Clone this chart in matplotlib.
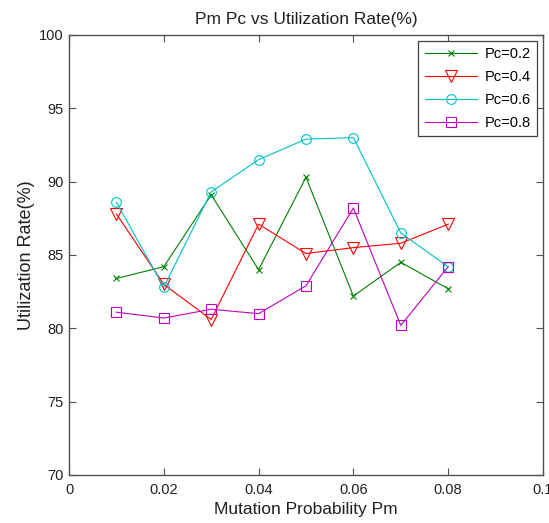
import matplotlib
matplotlib.use('Agg')
import matplotlib.pyplot as plt

plt.rcParams['font.family'] = ['Liberation Sans', 'DejaVu Sans']

# mutation probability values
pm = [0.01, 0.02, 0.03, 0.04, 0.05, 0.06, 0.07, 0.08]

# utilization rate (%) for each crossover probability
pc02 = [83.4, 84.2, 89.1, 84.0, 90.3, 82.2, 84.5, 82.7]
pc04 = [87.8, 83.0, 80.6, 87.1, 85.1, 85.5, 85.8, 87.1]
pc06 = [88.6, 82.8, 89.3, 91.5, 92.9, 93.0, 86.5, 84.2]
pc08 = [81.1, 80.7, 81.3, 81.0, 82.9, 88.2, 80.2, 84.2]

fig = plt.figure(figsize=(5.49, 5.23), dpi=100)
ax = fig.add_axes([0.1257, 0.0918, 0.8633, 0.8413])

ax.plot(pm, pc02, color='#008000', marker='x', ms=4.5, mew=0.8, lw=0.8, label='Pc=0.2')
ax.plot(pm, pc04, color='#ff0000', marker='v', ms=8, mfc='none', mew=0.8, lw=0.8, label='Pc=0.4')
ax.plot(pm, pc06, color='#00c0c8', marker='o', ms=7, mfc='none', mew=0.8, lw=0.8, label='Pc=0.6')
ax.plot(pm, pc08, color='#c000c0', marker='s', ms=7.5, mfc='none', mew=0.8, lw=0.8, label='Pc=0.8')

ax.set_xlim(0, 0.1)
ax.set_ylim(70, 100)
ax.set_xticks([0, 0.02, 0.04, 0.06, 0.08, 0.1])
ax.set_xticklabels(['0', '0.02', '0.04', '0.06', '0.08', '0.1'])
ax.set_yticks([70, 75, 80, 85, 90, 95, 100])

for s in ax.spines.values():
    s.set_color('#505050')
    s.set_linewidth(1.0)
ax.tick_params(direction='in', top=True, right=True, length=5, width=0.8,
               color='#505050', labelsize=10.5, labelcolor='#202020')
ax.tick_params(axis='x', pad=5.5)
ax.tick_params(axis='y', pad=4)

ax.set_title('Pm Pc vs Utilization Rate(%)', fontsize=12.5, color='#202020', pad=8)
ax.set_xlabel('Mutation Probability Pm', fontsize=12.5, color='#202020', labelpad=4)
ax.set_ylabel('Utilization Rate(%)', fontsize=13, color='#202020', labelpad=3)

leg = ax.legend(loc='upper right', fontsize=10.5, handlelength=3.6, fancybox=False,
                framealpha=1, edgecolor='#404040', borderaxespad=0.4,
                handletextpad=0.5, labelspacing=0.6, borderpad=0.45)
leg.get_frame().set_linewidth(0.9)

fig.savefig('out.png', dpi=100)
